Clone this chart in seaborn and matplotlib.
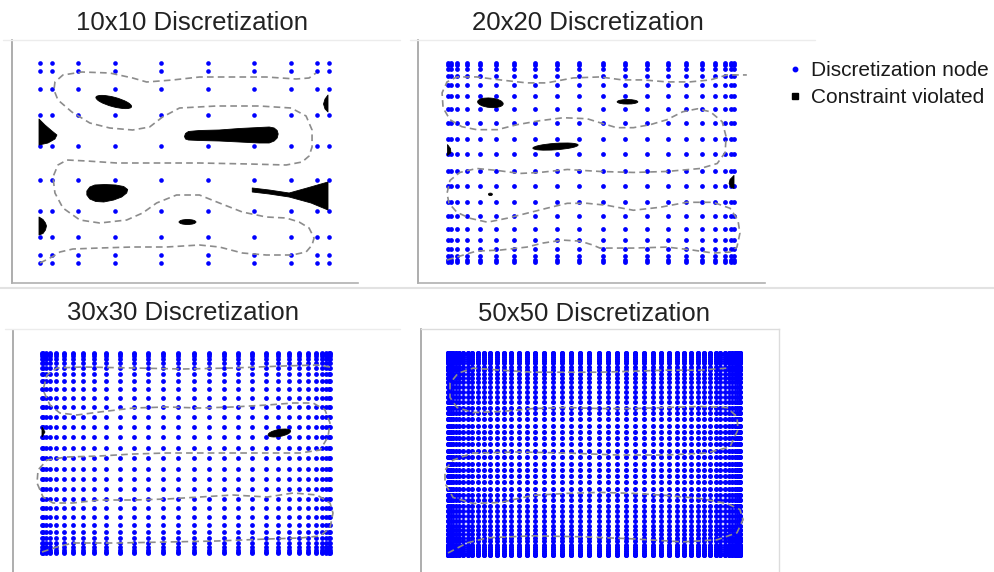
import numpy as np
import matplotlib
matplotlib.use("Agg")
import matplotlib.pyplot as plt
from matplotlib.patches import Polygon, Ellipse
from matplotlib.lines import Line2D
import seaborn as sns

sns.set_theme(style="white")
plt.rcParams["font.family"] = ["Liberation Sans", "DejaVu Sans"]

W, H = 994, 572

# Legendre-Gauss-Lobatto nodes (positive half of [-1, 1]) for each grid size
lgl_10 = [0.1653, 0.4779, 0.7388, 0.9195, 1.0000]
lgl_20 = [0.0805, 0.2396, 0.3924, 0.5350, 0.6638, 0.7754, 0.8669, 0.9359,
          0.9807, 1.0000]
lgl_30 = [0.0532, 0.1591, 0.2632, 0.3643, 0.4613, 0.5530, 0.6385, 0.7168,
          0.7869, 0.8481, 0.8997, 0.9411, 0.9718, 0.9916, 1.0000]
lgl_50 = [0.0317, 0.0951, 0.1580, 0.2203, 0.2818, 0.3421, 0.4016, 0.4586,
          0.5138, 0.5671, 0.6183, 0.6669, 0.7128, 0.7559, 0.7959, 0.8327,
          0.8662, 0.8961, 0.9225, 0.9451, 0.9640, 0.9790, 0.9900, 0.9970,
          1.0000]

titles = ["10x10 Discretization", "20x20 Discretization",
          "30x30 Discretization", "50x50 Discretization"]
legend_labels = ["Discretization node", "Constraint violated"]

# physical domain (width x height)
domain_w, domain_h = 29.0, 20.0

# optimised trajectories (dashed), one per grid
p1_x = [0, 1.2, 2.0, 3.3, 6.0, 9.3, 12.7, 16.0, 18.0, 20.3, 22.7, 25.3, 26.7,
        27.3, 27.5, 27.0, 26.0, 24.7, 22.7, 20.3, 18.0, 16.0, 13.7, 11.7, 10.3,
        8.7, 6.0, 4.0, 2.3, 1.5, 1.3, 1.8, 2.7, 4.7, 7.7, 11.0, 16.0, 21.0,
        24.7, 26.3, 27.0, 27.3, 27.3, 26.7, 25.2, 22.0, 17.7, 14.0, 12.3, 11.0,
        9.3, 7.0, 5.0, 3.2, 1.8, 1.4, 1.5, 2.3, 4.2, 7.0, 9.3, 10.7, 13.3,
        16.0, 19.3, 22.7, 25.7, 27.0, 27.7]
p1_y = [0, 0.6, 1.1, 1.4, 1.5, 1.6, 1.6, 1.8, 1.6, 1.0, 0.8, 0.8, 1.1, 1.8,
        2.5, 3.5, 4.1, 4.5, 4.6, 5.1, 6.0, 6.8, 6.8, 6.0, 5.0, 4.3, 4.0, 4.3,
        5.5, 7.0, 8.6, 9.8, 10.3, 10.2, 10.0, 10.0, 10.0, 9.9, 9.8, 10.1, 10.7,
        11.6, 13.3, 14.7, 15.5, 15.7, 15.7, 15.5, 14.6, 13.6, 13.3, 13.5, 14.0,
        15.1, 16.3, 17.3, 18.1, 18.8, 19.1, 19.0, 18.5, 18.1, 18.3, 18.6, 18.6,
        18.6, 18.4, 18.5, 19.0]

p2_x = [-0.1, 0.9, 2.9, 5.3, 8.0, 9.6, 11.6, 13.4, 14.7, 15.4, 18.8, 22.2,
        24.8, 26.9, 28.6, 29.3, 29.6, 29.4, 28.6, 26.9, 24.2, 21.5, 18.8, 16.1,
        14.1, 12.1, 10.0, 8.0, 6.0, 4.0, 2.2, 0.9, 0.1, -0.1, 0.2, 1.2, 2.9,
        5.0, 7.3, 9.3, 12.1, 15.4, 18.8, 22.2, 25.6, 27.3, 28.1, 28.2, 27.8,
        26.6, 25.3, 23.8, 22.2, 20.5, 18.8, 17.1, 15.4, 14.1, 11.7, 9.3, 7.0,
        5.0, 2.9, 1.4, 0.2, -0.5, -0.6, -0.1, 0.9, 2.9, 5.3, 8.0, 10.0, 12.7,
        15.4, 17.7, 19.8, 22.2, 24.5, 26.6, 28.3, 30.3]
p2_y = [0.2, 0.5, 1.1, 1.2, 1.5, 1.9, 2.2, 2.1, 1.7, 1.4, 1.4, 1.5, 1.2, 0.9,
        1.0, 1.5, 2.9, 4.2, 5.4, 6.0, 6.0, 5.5, 5.2, 5.7, 5.9, 5.9, 5.4, 4.9,
        4.4, 4.0, 4.4, 5.0, 5.9, 6.9, 8.2, 9.0, 9.4, 9.2, 8.9, 9.0, 9.3, 9.1,
        9.0, 9.1, 9.4, 9.9, 11.0, 12.6, 14.1, 15.1, 15.4, 15.1, 14.3, 13.8,
        13.5, 13.5, 14.0, 14.4, 14.5, 14.2, 13.8, 13.3, 13.3, 13.6, 14.3, 15.5,
        17.0, 18.1, 18.6, 18.6, 18.3, 18.0, 18.0, 18.5, 18.6, 18.3, 18.3, 18.1,
        18.1, 18.3, 18.8, 18.8]

p3_x = [0, 1.5, 3.1, 7.6, 12.6, 17.6, 22.7, 26.0, 28.0, 29.0, 29.3, 29.0,
        27.7, 25.3, 22.7, 19.2, 15.9, 12.6, 9.2, 5.8, 3.1, 1.1, 0.1, -0.5,
        -0.4, 0.5, 2.5, 5.8, 9.2, 12.6, 15.9, 19.2, 22.7, 26.0, 28.0, 28.8,
        29.0, 28.5, 27.3, 25.3, 22.7, 19.2, 15.9, 12.6, 9.2, 5.8, 3.5, 1.8,
        0.8, 0.1, 0.5, 1.5, 4.1, 9.2, 14.2, 19.2, 24.3, 27.7, 29.0]
p3_y = [0.1, 0.6, 1.0, 1.0, 1.1, 1.2, 1.4, 1.5, 1.7, 2.5, 4.0, 5.0, 5.8, 6.0,
        5.6, 5.8, 5.6, 5.4, 5.3, 5.3, 5.0, 5.0, 5.6, 7.0, 8.3, 9.3, 9.6, 9.7,
        9.9, 10.0, 10.0, 10.0, 10.0, 10.0, 10.3, 11.6, 13.0, 14.3, 15.0, 15.0,
        14.8, 14.6, 14.5, 14.6, 14.5, 14.1, 13.8, 14.0, 14.8, 16.3, 17.8, 18.5,
        18.6, 18.5, 18.4, 18.5, 18.7, 18.8, 18.6]

p4_x = [0, 1.9, 3.9, 8.4, 13.4, 18.4, 23.3, 26.7, 28.7, 29.3, 29.0, 27.7,
        25.0, 21.7, 18.4, 15.1, 11.8, 8.4, 5.2, 2.5, 0.5, -0.3, -0.3, 0.5, 2.5,
        6.9, 11.8, 16.8, 21.7, 25.7, 28.0, 28.8, 28.7, 27.7, 25.0, 21.7, 18.4,
        15.1, 11.8, 8.4, 5.2, 2.5, 0.9, 0.2, 0.2, 1.0, 2.5, 5.2, 8.4, 11.8,
        15.1, 18.4, 21.7, 25.0, 27.7]
p4_y = [0.2, 1.2, 1.7, 1.9, 1.8, 1.6, 1.3, 1.5, 2.2, 3.5, 4.5, 5.1, 5.6, 5.9,
        6.1, 6.2, 6.1, 5.9, 5.2, 5.1, 5.7, 7.1, 8.4, 9.4, 10.1, 10.2, 10.1, 9.9,
        9.9, 10.1, 10.7, 12.4, 13.7, 14.6, 14.7, 14.6, 14.5, 14.5, 14.6, 14.5,
        14.2, 14.1, 14.6, 15.6, 17.0, 18.0, 18.5, 18.3, 18.1, 18.1, 18.1, 18.2,
        18.3, 18.3, 18.5]

# constraint-violation regions: polygons (vertex lists) and ellipses
# (centre x, centre y, width, height, angle)
p1_polys = [
    [(-0.1, 14.4), (0.5, 13.8), (1.2, 13.2), (1.7, 12.8), (1.5, 12.4),
     (0.8, 12.0), (-0.1, 11.8)],
    [(14.5, 12.65), (14.6, 12.95), (14.9, 13.15), (16.0, 13.25), (18.0, 13.3),
     (20.0, 13.45), (22.0, 13.55), (23.0, 13.6), (23.5, 13.5), (23.8, 13.25),
     (23.9, 12.9), (23.8, 12.5), (23.5, 12.2), (23.0, 12.0), (22.0, 12.0),
     (20.0, 12.1), (18.0, 12.2), (16.0, 12.25), (14.9, 12.3), (14.6, 12.4)],
    [(-0.1, 4.6), (0.3, 4.35), (0.55, 4.0), (0.65, 3.7), (0.55, 3.3),
     (0.3, 2.95), (-0.1, 2.8)],
    [(4.7, 7.2), (5.0, 7.6), (5.5, 7.8), (6.5, 7.85), (7.6, 7.8), (8.4, 7.65),
     (8.8, 7.35), (8.7, 7.0), (8.2, 6.6), (7.4, 6.3), (6.4, 6.1), (5.6, 6.15),
     (5.0, 6.4), (4.7, 6.8)],
    [(21.3, 7.5), (23.0, 7.3), (25.0, 7.0), (26.8, 7.5), (28.9, 8.1),
     (28.9, 5.3), (27.2, 6.0), (25.0, 6.6), (23.0, 6.9), (21.3, 7.1)],
    [(28.9, 16.8), (28.6, 16.4), (28.45, 15.9), (28.6, 15.4), (28.9, 15.1)],
]
p1_ellipses = [(7.4, 16.1, 3.7, 0.95, -15), (14.8, 4.1, 1.7, 0.5, 0)]

p2_polys = [
    [(-0.05, 11.8), (0.25, 11.4), (0.3, 11.0), (-0.05, 10.7)],
    [(29.0, 8.7), (28.6, 8.3), (28.5, 7.9), (28.7, 7.5), (29.0, 7.4)],
]
p2_ellipses = [(4.3, 16.0, 2.6, 0.95, -5), (18.2, 16.1, 2.1, 0.45, 0),
               (10.9, 11.6, 4.6, 0.65, 4), (4.3, 6.8, 0.4, 0.25, 0)]

p3_polys = [[(0.0, 12.6), (0.3, 12.1), (0.0, 11.6)]]
p3_ellipses = [(23.9, 12.0, 2.3, 0.7, 10)]

p4_polys = []
p4_ellipses = []

panels = [
    # (axes box px, node-extent box px, nodes, path x, path y, polys, ellipses, marker size)
    ((12, 40, 358, 283), (40, 63, 329, 263), lgl_10, p1_x, p1_y, p1_polys, p1_ellipses, 11),
    ((418, 40, 765, 283), (448, 63, 734, 262), lgl_20, p2_x, p2_y, p2_polys, p2_ellipses, 12),
    ((13, 330, 372, 580), (42, 353, 330, 553), lgl_30, p3_x, p3_y, p3_polys, p3_ellipses, 12),
    ((421, 329, 779, 580), (448, 353, 740, 555), lgl_50, p4_x, p4_y, p4_polys, p4_ellipses, 13),
]
title_pos = [(192, 30), (588, 30), (183, 320), (594, 321)]

fig = plt.figure(figsize=(W / 100, H / 100), dpi=100)
fig.patch.set_facecolor("white")

# light frame edges between the panels
for (x0, y0, x1, y1, c, lw) in [(3, 40, 400, 40, "#ececec", 1.0),
                                (410, 40, 815, 40, "#ececec", 1.0),
                                (0, 288, 994, 288, "#e2e2e2", 1.5),
                                (5, 329, 400, 329, "#ececec", 1.0)]:
    fig.add_artist(Line2D([x0 / W, x1 / W], [1 - y0 / H, 1 - y1 / H],
                          color=c, lw=lw, transform=fig.transFigure))


def make_axes(box, nbox):
    x0, y0, x1, y1 = box
    ax = fig.add_axes([x0 / W, 1 - y1 / H, (x1 - x0) / W, (y1 - y0) / H])
    nx0, ny0, nx1, ny1 = nbox
    sx = (nx1 - nx0) / domain_w
    sy = (ny1 - ny0) / domain_h
    ax.set_xlim(-(nx0 - x0) / sx, domain_w + (x1 - nx1) / sx)
    ax.set_ylim(-(y1 - ny1) / sy, domain_h + (ny0 - y0) / sy)
    ax.set_xticks([])
    ax.set_yticks([])
    ax.set_facecolor("none")
    return ax


for i, (box, nbox, half, px, py, polys, ells, msize) in enumerate(panels):
    ax = make_axes(box, nbox)
    s = np.asarray(half)
    full = np.concatenate([-s[::-1], s])
    gx, gy = np.meshgrid(domain_w / 2 * (1 + full), domain_h / 2 * (1 + full))
    sns.scatterplot(x=gx.ravel(), y=gy.ravel(), ax=ax, color="#0000ff",
                    s=msize, linewidth=0, legend=False, zorder=2)
    for verts in polys:
        ax.add_patch(Polygon(verts, closed=True, facecolor="black",
                             edgecolor="black", lw=0.6, joinstyle="round",
                             zorder=3))
    for (cx, cy, ew, eh, ang) in ells:
        ax.add_patch(Ellipse((cx, cy), ew, eh, angle=ang, facecolor="black",
                             edgecolor="black", lw=0.6, zorder=3))
    sns.lineplot(x=px, y=py, ax=ax, sort=False, estimator=None,
                 color="#8c8c8c", lw=1.2, linestyle=(0, (4, 2.5)), zorder=4)

    for side in ("left", "right", "top", "bottom"):
        ax.spines[side].set_visible(False)
    ax.spines["left"].set_visible(True)
    ax.spines["left"].set_color("#a0a0a0")
    ax.spines["left"].set_linewidth(1.2)
    if i < 2:
        ax.spines["bottom"].set_visible(True)
        ax.spines["bottom"].set_color("#b0b0b0")
        ax.spines["bottom"].set_linewidth(1.2)
    if i == 3:
        for side in ("top", "right"):
            ax.spines[side].set_visible(True)
            ax.spines[side].set_color("#dcdcdc")
            ax.spines[side].set_linewidth(1.0)

    tx, ty = title_pos[i]
    fig.text(tx / W, 1 - ty / H, titles[i], ha="center", va="baseline",
             fontsize=18.5, color="#222222")

handles = [Line2D([], [], marker="o", color="#0000ff", ls="", ms=3.2),
           Line2D([], [], marker="s", color="black", ls="", ms=5)]
fig.legend(handles=handles, labels=legend_labels, loc="upper left",
           bbox_to_anchor=(787 / W, 1 - 61 / H), frameon=False, fontsize=15,
           handlelength=0.8, handletextpad=0.35, labelspacing=0.38,
           borderpad=0, borderaxespad=0, labelcolor="#1a1a1a")

fig.savefig("out.png", dpi=100, facecolor="white")
